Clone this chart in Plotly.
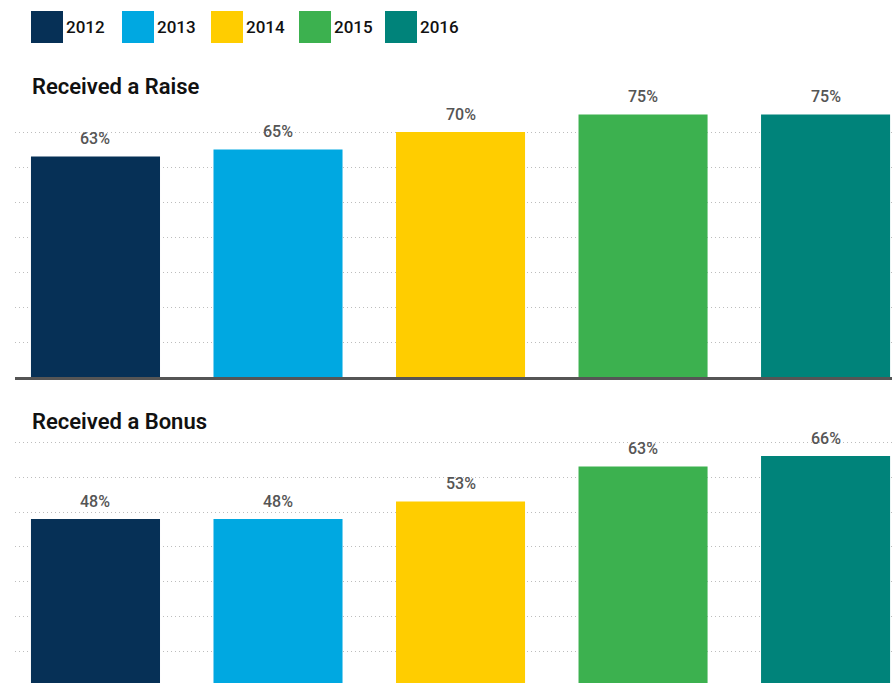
import plotly.graph_objects as go

years = ["2012", "2013", "2014", "2015", "2016"]
raise_vals = [63, 65, 70, 75, 75]
bonus_vals = [48, 48, 53, 63, 66]
colors = ["#063056", "#00A8E1", "#FFCD00", "#3CB14F", "#00837A"]
panel_titles = ["Received a Raise", "Received a Bonus"]
grid_vals = [10, 20, 30, 40, 50, 60, 70, 80]

W, H = 892, 683
FONT = "Roboto"

def py(p):
    return (H - p) / H

def px(p):
    return p / W

fig = go.Figure()
fig.add_trace(go.Bar(x=years, y=raise_vals, marker=dict(color=colors, line=dict(width=0)),
                     xaxis="x", yaxis="y", hoverinfo="skip"))
fig.add_trace(go.Bar(x=years, y=bonus_vals, marker=dict(color=colors, line=dict(width=0)),
                     xaxis="x2", yaxis="y2", hoverinfo="skip"))

xr = [-0.441, 4.364]
common_x = dict(type="category", range=xr, showticklabels=False, showgrid=False,
                zeroline=False, ticks="", domain=[px(15), 1])
grid_style = dict(showticklabels=False, showgrid=True, gridcolor="#bdbdbd",
                  griddash="1px,3px", gridwidth=1, zeroline=False, tickvals=grid_vals)
fig.update_layout(
    width=W, height=H,
    margin=dict(l=0, r=0, t=0, b=0),
    paper_bgcolor="white", plot_bgcolor="white",
    showlegend=False, bargap=0.293,
    font=dict(family=FONT),
    xaxis=dict(**common_x, anchor="y", showline=True, linecolor="#555555", linewidth=3),
    yaxis=dict(domain=[py(377), py(97)], range=[0, 80], anchor="x", **grid_style),
    xaxis2=dict(**common_x, anchor="y2", showline=False),
    yaxis2=dict(domain=[0, py(407)], range=[1.14, 80], anchor="x2", **grid_style),
)

ann = []
# value labels
for xa, ya, vals in (("x", "y", raise_vals), ("x2", "y2", bonus_vals)):
    for i, v in enumerate(vals):
        ann.append(dict(x=i, y=v, xref=xa, yref=ya, text=f"{v}%", showarrow=False,
                        yanchor="middle", yshift=18,
                        font=dict(family=FONT, size=16, weight=500, color="#555555")))
# panel titles
for t, yc in zip(panel_titles, (87, 421)):
    ann.append(dict(x=px(30), y=py(yc), xref="paper", yref="paper", text=t,
                    showarrow=False, xanchor="left", yanchor="middle",
                    font=dict(family=FONT, size=22, weight=600, color="#111111")))

# legend
shapes = []
leg_x = [31, 122, 211, 299, 385]
for lx, yr, c in zip(leg_x, years, colors):
    shapes.append(dict(type="rect", xref="paper", yref="paper",
                       x0=px(lx), x1=px(lx + 32), y0=py(43), y1=py(11),
                       fillcolor=c, line=dict(width=0)))
    ann.append(dict(x=px(lx + 33), y=py(27), xref="paper", yref="paper", text=yr,
                    showarrow=False, xanchor="left", yanchor="middle",
                    font=dict(family=FONT, size=17, weight=500, color="#111111")))

fig.update_layout(annotations=ann, shapes=shapes)
fig.write_html(
    "out.html",
    config={"displayModeBar": False},
    post_script="document.body.style.margin='0';document.body.style.overflow='hidden';",
)
